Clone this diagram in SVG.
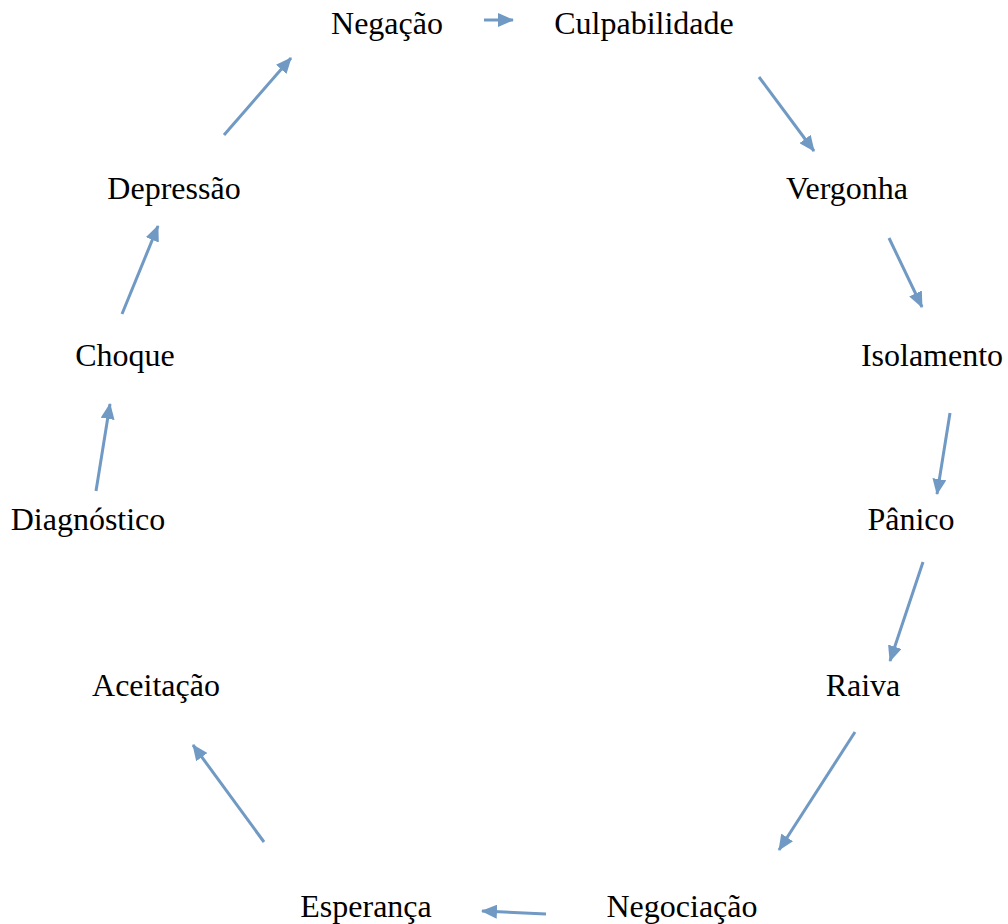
<svg xmlns="http://www.w3.org/2000/svg" width="1008" height="924" viewBox="0 0 1008 924">
<style>
text{font-family:"Liberation Serif","Times New Roman",serif;font-size:32px;fill:#000;text-anchor:middle}
.c line{stroke:#7099c4;stroke-width:3;marker-end:url(#ah)}
</style>
<defs>
<marker id="ah" markerUnits="userSpaceOnUse" markerWidth="16" markerHeight="14" refX="15" refY="7" orient="auto">
<path d="M0,0 L16,7 L0,14 Z" fill="#7099c4"/>
</marker>
</defs>
<rect width="1008" height="924" fill="#fff"/>
<g id="n-negacao"><text x="387" y="34">Negação</text></g>
<g id="n-culpabilidade"><text x="644" y="34">Culpabilidade</text></g>
<g id="n-vergonha"><text x="847" y="199">Vergonha</text></g>
<g id="n-isolamento"><text x="932" y="366">Isolamento</text></g>
<g id="n-panico"><text x="911" y="530">Pânico</text></g>
<g id="n-raiva"><text x="863" y="696">Raiva</text></g>
<g id="n-negociacao"><text x="682" y="917">Negociação</text></g>
<g id="n-esperanca"><text x="366" y="917">Esperança</text></g>
<g id="n-aceitacao"><text x="156" y="696">Aceitação</text></g>
<g id="n-diagnostico"><text x="88" y="530">Diagnóstico</text></g>
<g id="n-choque"><text x="125" y="366">Choque</text></g>
<g id="n-depressao"><text x="174" y="199">Depressão</text></g>
<g class="c" id="connectors">
<line x1="484" y1="20" x2="513" y2="20"/>
<line x1="759" y1="77" x2="814" y2="151"/>
<line x1="889" y1="238" x2="922" y2="307"/>
<line x1="950" y1="413" x2="937" y2="494"/>
<line x1="923" y1="562" x2="890" y2="661"/>
<line x1="855" y1="732" x2="779" y2="850"/>
<line x1="546" y1="914" x2="482" y2="911"/>
<line x1="264" y1="842" x2="193" y2="745"/>
<line x1="96" y1="491" x2="110" y2="404"/>
<line x1="122" y1="314" x2="158" y2="226"/>
<line x1="224" y1="135" x2="291" y2="58"/>
</g>
</svg>
